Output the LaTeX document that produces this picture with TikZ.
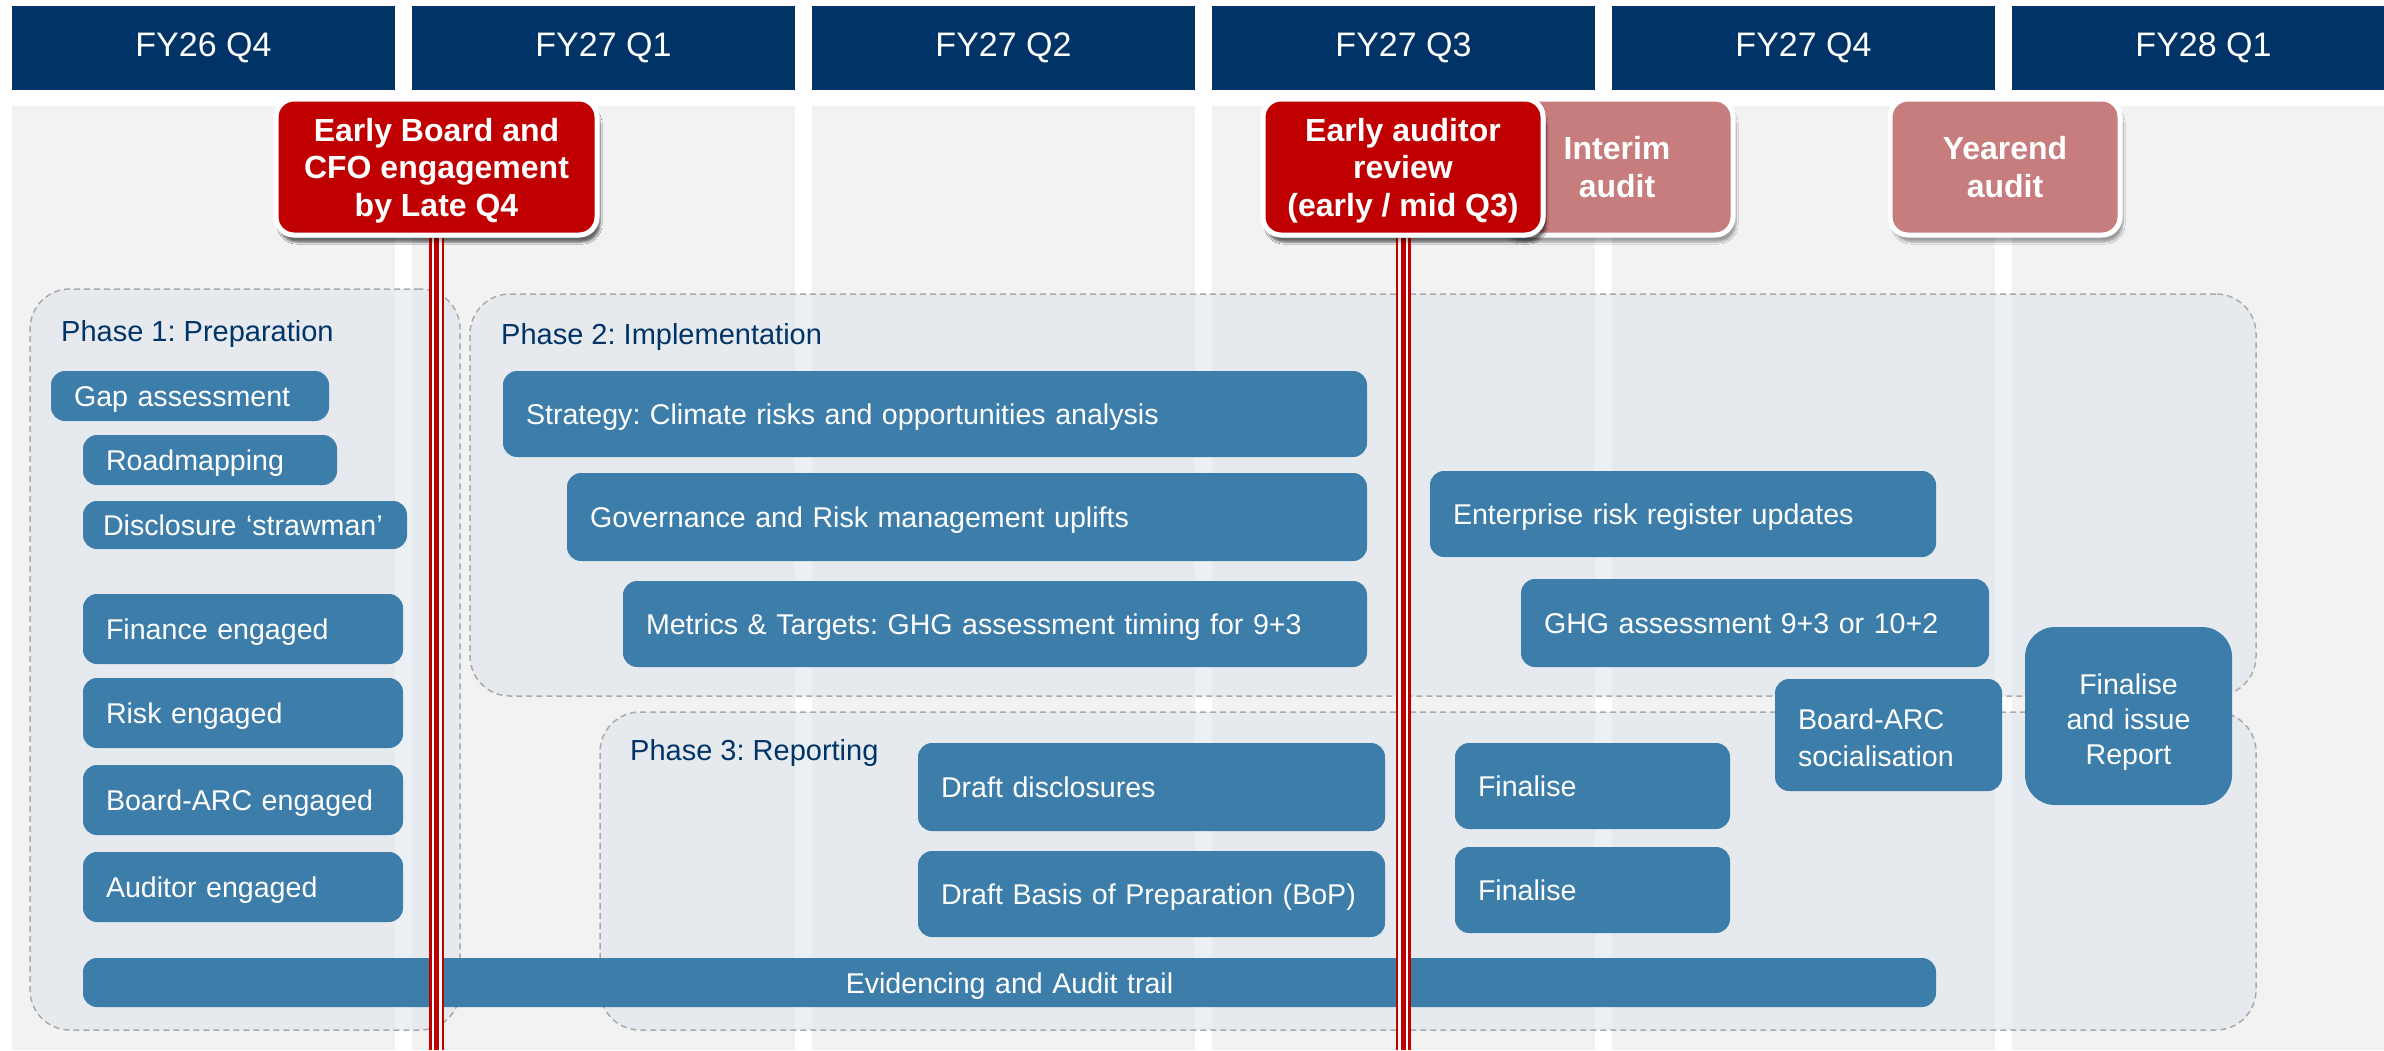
\documentclass[tikz,border=0pt]{standalone}
\usepackage{fontspec}
\setmainfont{Liberation Sans}
\usetikzlibrary{shadows.blur}
\definecolor{navy}{RGB}{0,51,102}
\definecolor{bbl}{RGB}{61,125,170}
\definecolor{colgrey}{RGB}{242,242,242}
\definecolor{phfill}{RGB}{222,230,238}
\definecolor{phline}{RGB}{170,170,170}
\definecolor{calred}{RGB}{192,0,0}
\definecolor{auditpink}{RGB}{199,124,125}
\frenchspacing
\hyphenpenalty=10000
\tikzset{
  hdr/.style={fill=navy, text=white, minimum width=383pt, minimum height=84pt, inner sep=0pt, font=\fontsize{34}{40}\selectfont},
  colbg/.style={fill=colgrey, minimum width=383pt, minimum height=944pt, inner sep=0pt},
  phase/.style={draw=phline, line width=1.5pt, dash pattern=on 6pt off 4pt, fill=phfill, fill opacity=0.6, rounded corners=40pt, inner sep=0pt},
  phlabel/.style={text=navy, anchor=base west, inner sep=0pt, font=\fontsize{29}{35}\selectfont},
  bbase/.style={fill=bbl, text=white, rounded corners=14pt, inner xsep=23pt, inner ysep=0pt, align=left, font=\fontsize{28.6}{36}\selectfont},
  bbox/.style={bbase, text height=21pt, text depth=0pt},
  bmulti/.style={bbase},
  callout/.style={fill=calred, draw=white, line width=5pt, rounded corners=18pt, text=white, align=center, inner sep=0pt, minimum height=136pt, text depth=-1pt, font=\bfseries\fontsize{32}{37.5}\selectfont, blur shadow={shadow xshift=3pt, shadow yshift=-7pt, shadow blur steps=6, shadow opacity=35}},
  auditbox/.style={callout, fill=auditpink, text depth=0pt},
}
\begin{document}
\begin{tikzpicture}[x=1pt,y=-1pt]
\useasboundingbox[fill=white] (0,0) rectangle (2384,1050);
% column backgrounds and headers
\node[colbg] (bg1) at (203.5,578) {};
\node[colbg] (bg2) at (603.5,578) {};
\node[colbg] (bg3) at (1003.5,578) {};
\node[colbg] (bg4) at (1403.5,578) {};
\node[colbg] (bg5) at (1803.5,578) {};
\node[colbg] (bg6) at (2203.5,578) {};
\node[hdr] (h1) at (203.5,48) {FY26 Q4};
\node[hdr] (h2) at (603.5,48) {FY27 Q1};
\node[hdr] (h3) at (1003.5,48) {FY27 Q2};
\node[hdr] (h4) at (1403.5,48) {FY27 Q3};
\node[hdr] (h5) at (1803.5,48) {FY27 Q4};
\node[hdr] (h6) at (2203.5,48) {FY28 Q1};
% phases
\node[phase, minimum width=430pt, minimum height=741pt] (p1) at (245,659.5) {};
\node[phase, minimum width=1786pt, minimum height=402pt] (p2) at (1363,495) {};
\node[phase, minimum width=1656pt, minimum height=318pt] (p3) at (1428,871) {};
\node[phlabel] (p1l) at (61,341) {Phase 1: Preparation};
\node[phlabel] (p2l) at (501,344) {Phase 2: Implementation};
\node[phlabel] (p3l) at (630,760) {Phase 3: Reporting};
% phase 1 boxes
\node[bbox, text width=232pt, minimum height=50pt] (gap) at (190,396) {Gap assessment};
\node[bbox, text width=208pt, minimum height=50pt] (road) at (210,460) {Roadmapping};
\node[bbox, inner xsep=20pt, text width=284pt, minimum height=48pt] (disc) at (245,525) {Disclosure ‘strawman’};
\node[bbox, text width=274pt, minimum height=70pt] (fin) at (243,629) {Finance engaged};
\node[bbox, text width=274pt, minimum height=70pt] (risk) at (243,713) {Risk engaged};
\node[bbox, text width=274pt, minimum height=70pt] (barc) at (243,800) {Board-ARC engaged};
\node[bbox, text width=274pt, minimum height=70pt] (aud) at (243,887) {Auditor engaged};
% phase 2 boxes
\node[bbox, text width=818pt, minimum height=86pt] (strat) at (935,414) {Strategy: Climate risks and opportunities analysis};
\node[bbox, text width=754pt, minimum height=88pt] (gov) at (967,517) {Governance and Risk management uplifts};
\node[bbox, text width=698pt, minimum height=86pt] (met) at (995,624) {Metrics \& Targets: GHG assessment timing for 9+3};
\node[bbox, text width=460pt, minimum height=86pt] (erru) at (1683,514) {Enterprise risk register updates};
\node[bbox, text width=422pt, minimum height=88pt] (ghg) at (1755,623) {GHG assessment 9+3 or 10+2};
% phase 3 boxes
\node[bbox, text width=421pt, minimum height=88pt] (dd) at (1151.5,787) {Draft disclosures};
\node[bbox, text width=421pt, minimum height=86pt] (dbop) at (1151.5,894) {Draft Basis of Preparation (BoP)};
\node[bbox, text width=229pt, minimum height=86pt] (fin1) at (1592.5,786) {Finalise};
\node[bbox, text width=229pt, minimum height=86pt] (fin2) at (1592.5,890) {Finalise};
\node[bmulti, text width=181pt, minimum height=112pt, text depth=32pt, font=\fontsize{28.6}{37}\selectfont] (bsoc) at (1888.5,735) {Board-ARC\\socialisation};
\node[bmulti, text width=161pt, minimum height=178pt, text depth=64pt, align=center, rounded corners=30pt, font=\fontsize{28.6}{35}\selectfont] (fir) at (2128.5,716) {Finalise\\and issue\\Report};
\node[bbox, text width=1807pt, minimum height=49pt, align=center] (evid) at (1009.5,982.5) {Evidencing and Audit trail};
% audit windows
\node[auditbox, minimum width=232pt] (interim) at (1617,167) {Interim\\audit};
\node[auditbox, minimum width=230pt] (yearend) at (2005,167) {Yearend\\audit};
% milestone callouts and their lines
\coordinate (bot) at (0,1050);
\node[callout, minimum width=321pt] (c1) at (436.5,167) {Early Board and\\CFO engagement\\by Late Q4};
\node[callout, minimum width=280pt] (c2) at (1403,167) {Early auditor\\review\\(early / mid Q3)};
\foreach \c in {c1,c2}{
  \draw[calred, line width=15pt] (\c.south) -- (\c.south |- bot);
  \draw[white, line width=10pt] (\c.south) -- (\c.south |- bot);
  \draw[calred, line width=5pt] (\c.south) -- (\c.south |- bot);
}
\node[callout, minimum width=321pt] at (436.5,167) {Early Board and\\CFO engagement\\by Late Q4};
\node[callout, minimum width=280pt] at (1403,167) {Early auditor\\review\\(early / mid Q3)};
\end{tikzpicture}
\end{document}
